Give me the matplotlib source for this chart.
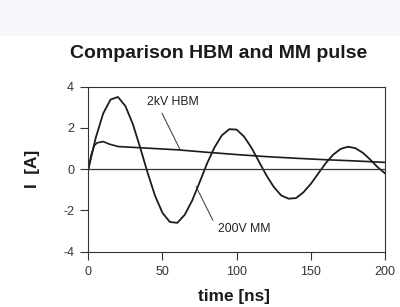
import numpy as np
import matplotlib.pyplot as plt
from matplotlib.patches import Rectangle

plt.rcParams['font.family'] = ['Liberation Sans', 'DejaVu Sans']
plt.rcParams['axes.unicode_minus'] = False

# 200V MM pulse, read every 5 ns
t_mm = [0, 5, 10, 15, 20, 25, 30, 35, 40, 45, 50, 55, 60, 65, 70, 75, 80,
        85, 90, 95, 100, 105, 110, 115, 120, 125, 130, 135, 140, 145, 150,
        155, 160, 165, 170, 175, 180, 185, 190, 195, 200]
i_mm = [0, 1.52, 2.70, 3.38, 3.50, 3.06, 2.19, 1.04, -0.18, -1.29, -2.12,
        -2.56, -2.60, -2.21, -1.52, -0.64, 0.27, 1.05, 1.64, 1.94, 1.92,
        1.58, 1.04, 0.37, -0.29, -0.86, -1.27, -1.43, -1.40, -1.12, -0.71,
        -0.21, 0.29, 0.70, 0.98, 1.09, 1.02, 0.80, 0.47, 0.10, -0.20]

# 2kV HBM pulse
t_hbm = [0, 2, 4, 6, 10, 14, 20, 35, 60, 80, 100, 120, 140, 160, 180, 200]
i_hbm = [0, 0.7, 1.15, 1.28, 1.34, 1.22, 1.10, 1.04, 0.94, 0.82, 0.71,
         0.61, 0.53, 0.46, 0.40, 0.33]

x_ticks = [0, 50, 100, 150, 200]
y_ticks = [-4, -2, 0, 2, 4]

fig = plt.figure(figsize=(4, 3.07), dpi=100)
fig.patches.append(Rectangle((0, 1 - 35 / 307), 1, 35 / 307,
                             transform=fig.transFigure, color='#f6f7fb',
                             zorder=0))

ax = fig.add_axes([0.2208, 0.1801, 0.7417, 0.5375])
ink = '#1c1c1c'
ax.plot(t_mm, i_mm, color=ink, lw=1.3)
ax.plot(t_hbm, i_hbm, color=ink, lw=1.2)
ax.axhline(0, color='#333333', lw=0.9)

ax.set_xlim(0, 200)
ax.set_ylim(-4, 4)
ax.set_xticks(x_ticks)
ax.set_yticks(y_ticks)
ax.tick_params(direction='out', length=5.8, width=0.8, color='#333333',
               labelsize=9, labelcolor='#333333', pad=4.5)
for s in ax.spines.values():
    s.set_color('#333333')
    s.set_linewidth(0.8)

ax.text(57, 3.28, '2kV HBM', fontsize=8.8, color='#222222',
        ha='center', va='center')
ax.plot([49.7, 62], [2.71, 0.93], color='#333333', lw=0.7)
ax.text(105, -2.9, '200V MM', fontsize=8.8, color='#222222',
        ha='center', va='center')
ax.plot([72.7, 83.9], [-0.85, -2.47], color='#333333', lw=0.7)

fig.text(219 / 400, 1 - 54 / 307, 'Comparison HBM and MM pulse',
         fontsize=14, fontweight='bold', color='#1a1a1a',
         ha='center', va='center')
fig.text(234 / 400, 1 - 296 / 307, 'time [ns]', fontsize=12.4,
         fontweight='bold', color='#1a1a1a', ha='center', va='center')
fig.text(33 / 400, 1 - 169 / 307, 'I  [A]', fontsize=12.4, fontweight='bold',
         color='#1a1a1a', ha='center', va='center', rotation=90)

fig.savefig('out.png', dpi=100)
